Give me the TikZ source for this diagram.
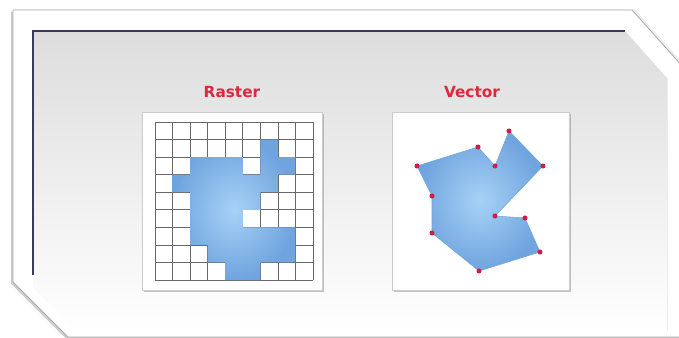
\documentclass[tikz,border=0pt]{standalone}
\usepackage{fontspec}
\setsansfont{DejaVu Sans}
\usetikzlibrary{shadows,positioning}
\definecolor{frm}{RGB}{170,170,170}
\definecolor{nvy}{RGB}{58,58,92}
\definecolor{pnl}{RGB}{221,221,221}
\definecolor{ttl}{RGB}{222,40,62}
\definecolor{bl1}{RGB}{166,210,247}
\definecolor{bl2}{RGB}{112,164,222}
\definecolor{grd}{RGB}{105,105,105}
\definecolor{dot}{RGB}{205,30,72}

\begin{document}
\begin{tikzpicture}[x=0.75pt, y=-0.75pt,
    frame/.style={draw=frm, fill=white, line width=0.6pt, drop shadow={shadow xshift=-1.4pt, shadow yshift=-1.4pt, opacity=0.4}, drop shadow={shadow xshift=2pt, shadow yshift=0.5pt, opacity=0.15}},
    panel/.style={top color=pnl, bottom color=white},
    card/.style={rectangle, draw=gray!40, fill=white, line width=0.5pt, drop shadow={shadow xshift=1.2pt, shadow yshift=-1.2pt, opacity=0.45}},
    ttlbl/.style={font=\sffamily\bfseries\fontsize{11.5}{13}\selectfont, text=ttl},
    blob/.style={inner color=bl1, outer color=bl2},
    vx/.style={circle, fill=dot, inner sep=0pt, minimum size=3.8pt},
]
\useasboundingbox (0,0) rectangle (679,338);

% === FRAME ===
\path[frame] (13,10) -- (632,10) -- (700,86) -- (700,337) -- (68,337) -- (13,282) -- cycle;
\path[panel] (33,31) -- (625,31) -- (667,78) -- (667,331) -- (76,331) -- (33,288) -- cycle;
\draw[gray!15, line width=0.5pt] (667,78) -- (667,331);
\draw[nvy, line width=1.8pt] (33,275) -- (33,31) -- (625,31);

% === RASTER ===
\node[ttlbl] (rlbl) at (232,92) {Raster};
\node[card, minimum width=135pt, minimum height=133.5pt] (rcard) at (232,201) {};
\begin{scope}[shift={(155,122)}, x=13.17pt, y=-13.17pt]
\foreach \i in {0,...,9}
  \draw[grd, line width=0.5pt] (\i,0) -- (\i,9) (0,\i) -- (9,\i);
\path[blob] (6,1) rectangle (7,2)
  (2,2) rectangle (5,3) (6,2) rectangle (8,3)
  (1,3) rectangle (7,4)
  (2,4) rectangle (6,5)
  (2,5) rectangle (5,6)
  (2,6) rectangle (8,7)
  (3,7) rectangle (8,8)
  (4,8) rectangle (6,9);
\end{scope}

% === VECTOR ===
\node[ttlbl] (vlbl) at (472,92) {Vector};
\node[card, minimum width=132.75pt, minimum height=133.5pt] (vcard) at (480.5,201) {};
\coordinate (p1) at (417,166);
\coordinate (p2) at (478,147);
\coordinate (p3) at (495,166);
\coordinate (p4) at (509,131);
\coordinate (p5) at (543,166);
\coordinate (p6) at (495,216);
\coordinate (p7) at (525,218);
\coordinate (p8) at (540,252);
\coordinate (p9) at (479,271);
\coordinate (p10) at (432,233);
\coordinate (p11) at (432,196);
\path[blob, draw=bl2, line width=0.4pt] (p1) -- (p2) -- (p3) -- (p4) -- (p5) -- (p6) -- (p7) -- (p8) -- (p9) -- (p10) -- (p11) -- cycle;
\foreach \k in {1,...,11}
  \node[vx] (d\k) at (p\k) {};

\end{tikzpicture}
\end{document}
